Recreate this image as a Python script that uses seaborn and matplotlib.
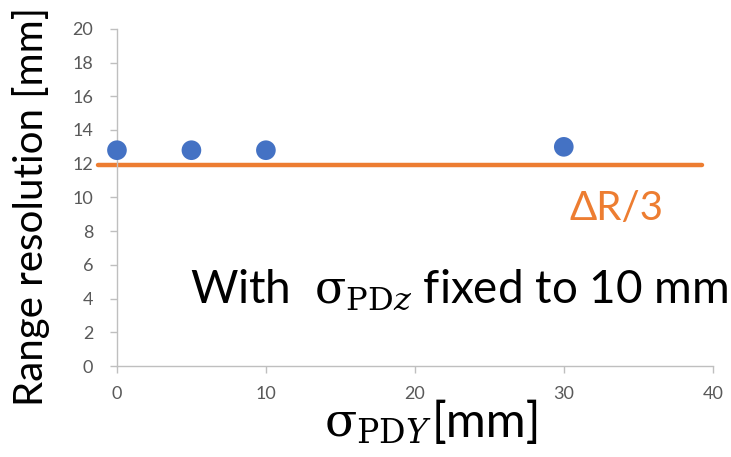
import matplotlib
matplotlib.use("Agg")
import matplotlib.pyplot as plt
import seaborn as sns
import pandas as pd

sigma_pdy = [0, 5, 10, 30]
range_res = [12.8, 12.8, 12.8, 13.0]
limit_x = [-1.3, 39.3]
limit_y = [11.95, 11.95]
x_ticks = [0, 10, 20, 30, 40]
y_ticks = [0, 2, 4, 6, 8, 10, 12, 14, 16, 18, 20]

sns.set_theme(style="white")
plt.rcParams['font.family'] = ['Lato', 'DejaVu Sans']
plt.rcParams['mathtext.fontset'] = 'dejavuserif'

fig = plt.figure(figsize=(7.31, 4.57), dpi=100)
ax = fig.add_axes([0.160, 0.199, 0.815, 0.738])

df = pd.DataFrame({"x": sigma_pdy, "y": range_res})
lim = pd.DataFrame({"x": limit_x, "y": limit_y})

sns.lineplot(data=lim, x="x", y="y", ax=ax, color="#ED7D31", linewidth=3.2, zorder=2)
for l in ax.lines:
    l.set_clip_on(False)
sns.scatterplot(data=df, x="x", y="y", ax=ax, color="#4472C4", s=200, edgecolor="none", zorder=3, clip_on=False)

ax.set_xlim(0, 40)
ax.set_ylim(0, 20)
ax.set_xticks(x_ticks)
ax.set_yticks(y_ticks)
ax.tick_params(axis='both', labelsize=13, labelcolor="#595959", color="#BFBFBF",
               length=5, width=1, direction='out', bottom=True, left=True)
ax.tick_params(axis='x', pad=9)
ax.tick_params(axis='y', pad=12)
for s in ["top", "right"]:
    ax.spines[s].set_visible(False)
for s in ["left", "bottom"]:
    ax.spines[s].set_color("#BFBFBF")
    ax.spines[s].set_linewidth(1)

ax.set_ylabel("Range resolution [mm]", fontsize=29, color="black")
ax.yaxis.set_label_coords(-0.112, 0.472)

ax.set_xlabel(r"$\mathrm{σ}_{\mathrm{PD}Y}$", fontsize=34, color="black")
ax.xaxis.label.set_ha('right')
ax.xaxis.label.set_va('baseline')
ax.xaxis.set_label_coords(0.5285, -0.211)
ax.text(0.5285, -0.211, "[mm]", transform=ax.transAxes, fontsize=35, color="black",
        ha='left', va='baseline')

ax.text(0.76, 0.433, "ΔR/3", transform=ax.transAxes, fontsize=29, color="#ED7D31", va='baseline')
ax.text(0.1225, 0.187, r"With  $\mathrm{σ}_{\mathrm{PD}z}$ fixed to 10 mm", transform=ax.transAxes,
        fontsize=33, color="black", va='baseline')

fig.savefig("out.png", dpi=100)
